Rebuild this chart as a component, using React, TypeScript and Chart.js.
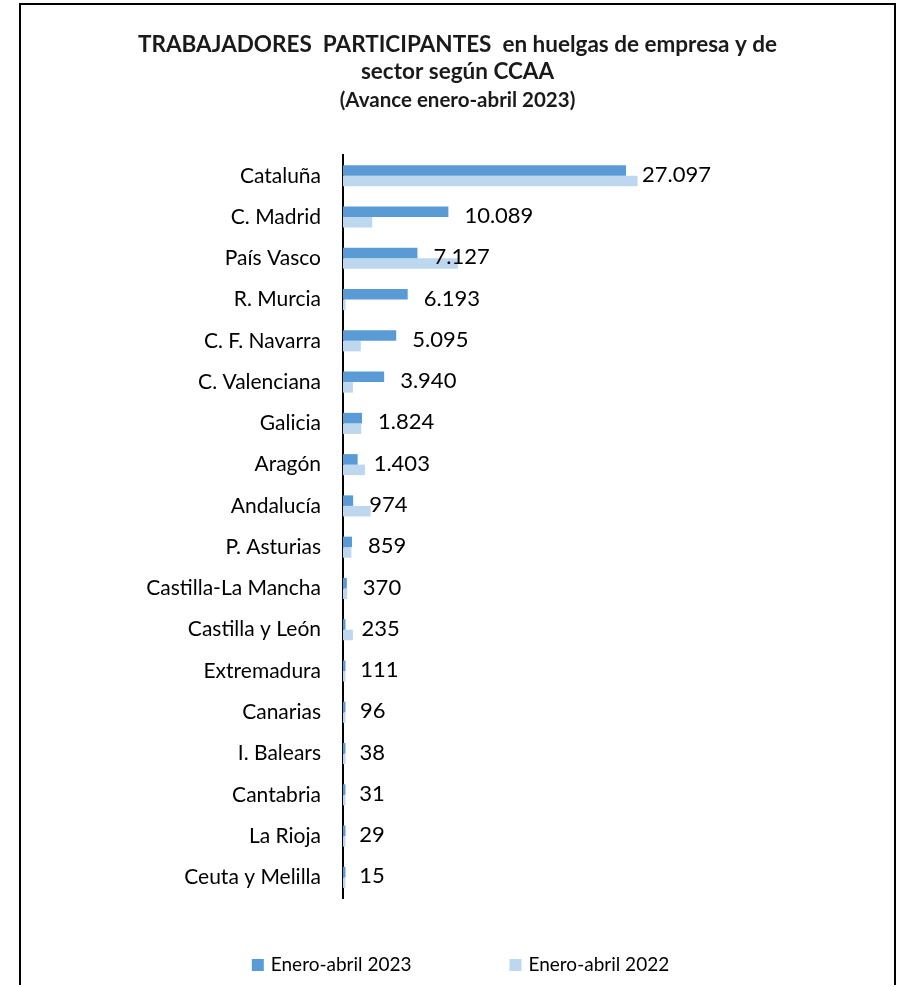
import React, { useEffect, useRef } from "react";
import { Chart, registerables } from "chart.js";

Chart.register(...registerables);

const categories = [
  "Cataluña",
  "C. Madrid",
  "País Vasco",
  "R. Murcia",
  "C. F. Navarra",
  "C. Valenciana",
  "Galicia",
  "Aragón",
  "Andalucía",
  "P. Asturias",
  "Castilla-La Mancha",
  "Castilla y León",
  "Extremadura",
  "Canarias",
  "I. Balears",
  "Cantabria",
  "La Rioja",
  "Ceuta y Melilla",
];

const values2023 = [27097, 10089, 7127, 6193, 5095, 3940, 1824, 1403, 974, 859, 370, 235, 111, 96, 38, 31, 29, 15];
const values2022 = [28200, 2800, 11000, 200, 1700, 950, 1750, 2100, 2650, 800, 400, 950, 150, 100, 100, 80, 80, 60];

const seriesNames = ["Enero-abril 2023", "Enero-abril 2022"];
const seriesColors = ["#5B9BD5", "#BDD7EE"];

const titleLines = ["TRABAJADORES  PARTICIPANTES  en huelgas de empresa y de", "sector según CCAA"];
const subtitleText = "(Avance enero-abril 2023)";

const FONT = "Lato, 'Open Sans', sans-serif";

function fmt(v: number): string {
  return String(Math.round(v)).replace(/\B(?=(\d{3})+(?!\d))/g, ".");
}

const valueLabelPlugin = {
  id: "valueLabels",
  afterDatasetsDraw(chart: any) {
    const ctx = chart.ctx;
    const ds = chart.data.datasets[0];
    const xs = chart.scales.x;
    const ys = chart.scales.y;
    ctx.save();
    ctx.font = `22px ${FONT}`;
    ctx.fillStyle = "#000";
    ctx.textAlign = "left";
    ctx.textBaseline = "middle";
    ds.data.forEach((v: number, i: number) => {
      const x = xs.getPixelForValue(v) + 16;
      const y = ys.getPixelForValue(i) - 1;
      ctx.fillText(fmt(v), x, y);
    });
    ctx.restore();
  },
};

const legendPlugin = {
  id: "customLegend",
  afterDraw(chart: any) {
    const ctx = chart.ctx;
    const box = 12;
    const boxGap = 7;
    const itemGap = 98;
    const y = 960;
    ctx.save();
    ctx.font = `19px ${FONT}`;
    ctx.textBaseline = "middle";
    ctx.textAlign = "left";
    const items = chart.data.datasets.map((d: any) => ({
      label: d.label,
      color: d.backgroundColor,
      w: box + boxGap + ctx.measureText(d.label).width,
    }));
    const total = items.reduce((s: number, it: any) => s + it.w, 0) + itemGap * (items.length - 1);
    let x = chart.width / 2 - total / 2 + 3;
    items.forEach((it: any) => {
      ctx.fillStyle = it.color;
      ctx.fillRect(x, y - box / 2, box, box);
      ctx.fillStyle = "#000";
      ctx.fillText(it.label, x + box + boxGap, y);
      x += it.w + itemGap;
    });
    ctx.restore();
  },
};

export default function App() {
  const ref = useRef<HTMLCanvasElement | null>(null);

  useEffect(() => {
    document.body.style.overflow = "hidden";
    if (!ref.current) return;
    const chart = new Chart(ref.current, {
      type: "bar",
      data: {
        labels: categories,
        datasets: [
          {
            label: seriesNames[0],
            data: values2023,
            backgroundColor: seriesColors[0],
            categoryPercentage: 0.51,
            barPercentage: 1,
            minBarLength: 2.5,
          },
          {
            label: seriesNames[1],
            data: values2022,
            backgroundColor: seriesColors[1],
            categoryPercentage: 0.51,
            barPercentage: 1,
            minBarLength: 2.5,
          },
        ],
      },
      options: {
        indexAxis: "y",
        animation: false,
        responsive: true,
        maintainAspectRatio: false,
        layout: { padding: { left: 0, right: 0, top: 0, bottom: 87 } },
        plugins: {
          legend: { display: false },
          tooltip: { enabled: false },
          title: {
            display: true,
            text: titleLines,
            color: "#1a1a1a",
            font: { family: FONT, size: 22.5, weight: "bold", lineHeight: 1.2 },
            padding: { top: 26.5, bottom: 4.3 },
          },
          subtitle: {
            display: true,
            text: subtitleText,
            color: "#1a1a1a",
            font: { family: FONT, size: 20.5, weight: "bold", lineHeight: 1.0 },
            padding: { top: 0, bottom: 44.8 },
          },
        },
        scales: {
          x: { display: false, min: 0, max: 52750 },
          y: {
            afterFit(scale: any) {
              scale.width = 322;
            },
            grid: { display: false, drawTicks: false },
            border: { display: true, color: "#000", width: 2 },
            ticks: {
              autoSkip: false,
              padding: 22,
              color: "#000",
              font: { family: FONT, size: 21 },
            },
          },
        },
      },
      plugins: [valueLabelPlugin, legendPlugin],
    });
    return () => chart.destroy();
  }, []);

  return (
    <div
      style={{
        position: "absolute",
        left: 19,
        top: 3,
        width: 873,
        height: 980,
        borderLeft: "2px solid #000",
        borderTop: "2px solid #000",
        borderRight: "2px solid #000",
        background: "#fff",
      }}
    >
      <div style={{ position: "relative", width: 873, height: 980 }}>
        <canvas ref={ref} />
      </div>
    </div>
  );
}
